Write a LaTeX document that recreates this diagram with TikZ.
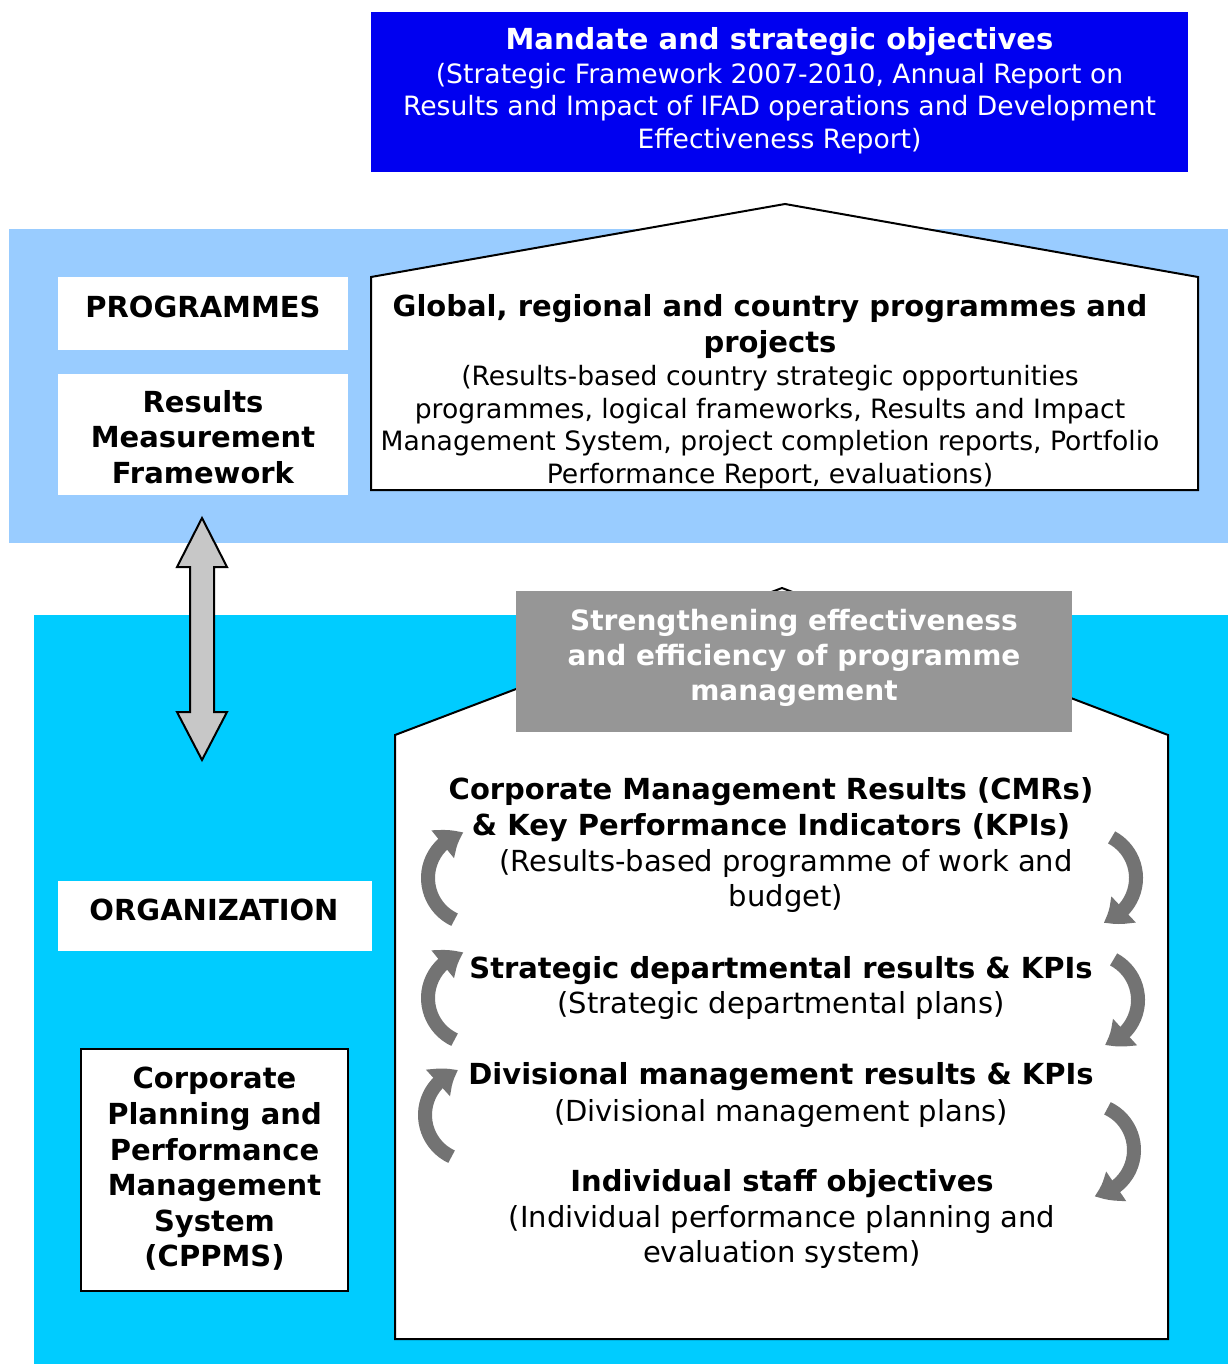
\documentclass[tikz,border=0pt]{standalone}
\usepackage{fontspec}
\setmainfont{DejaVu Sans}
\usetikzlibrary{arrows.meta,bending}

\definecolor{mandateblue}{RGB}{0,0,240}
\definecolor{progband}{RGB}{153,204,255}
\definecolor{orgband}{RGB}{0,204,255}
\definecolor{strengthgrey}{RGB}{150,150,150}

\begin{document}
\begin{tikzpicture}
	[x=0.5pt,y=-0.5pt,line join=miter,
	%Styles
	white box/.style={fill=white},
	box text/.style={inner sep=0pt,align=center,font=\fontsize{14.5}{17.8}\selectfont\bfseries},
	house/.style={fill=white,draw=black,line width=1pt},
	head text/.style={font=\fontsize{14.5}{18}\selectfont\bfseries,align=center,inner sep=0pt},
	plain text/.style={font=\fontsize{14.5}{17.5}\selectfont,align=center,inner sep=0pt},
	small text/.style={font=\fontsize{13.3}{16.3}\selectfont,align=center,inner sep=0pt},
	turn arrow/.style={line width=7pt,draw=black!55,-{Triangle[width=17pt,length=12pt,bend]}}
	]

	\useasboundingbox (0,0) rectangle (1228,1364);

	%Bands
	\fill[progband] (9,229) rectangle (1228,543);
	\fill[orgband] (34,615) rectangle (1228,1364);

	%Top box
	\node[fill=mandateblue,minimum width=408.5pt,minimum height=80pt,inner sep=0pt] (mandate) at (779.5,92) {};
	\node[head text,text=white] (mandatehead) at (779.5,42) {Mandate and strategic objectives};
	\node[small text,text=white] (mandatedesc) at (779.5,108.5)
		{(Strategic Framework 2007-2010, Annual Report on\\Results and Impact of IFAD operations and Development\\Effectiveness Report)};

	%Programmes house
	\draw[house] (371,490) -- (371,277) -- (785,204) -- (1198,277) -- (1198,490) -- cycle;
	\node[head text] (globalhead) at (770,327) {Global, regional and country programmes and\\projects};
	\node[small text] (globaldesc) at (770,427)
		{(Results-based country strategic opportunities\\programmes, logical frameworks, Results and Impact\\Management System, project completion reports, Portfolio\\Performance Report, evaluations)};

	%Left boxes
	\fill[white box] (58,277) rectangle (348,350);
	\fill[white box] (58,374) rectangle (348,495);
	\fill[white box] (58,881) rectangle (372,951);
	\draw[white box,draw=black,line width=0.8pt] (81,1049) rectangle (348,1291);
	\node[box text] (progs) at (203,307) {PROGRAMMES};
	\node[box text] (rmf) at (203,437) {Results\\Measurement\\Framework};
	\node[box text] (org) at (214,910) {ORGANIZATION};
	\node[box text] (cppms) at (214.5,1169) {Corporate\\Planning and\\Performance\\Management\\System\\(CPPMS)};

	%Double arrow
	\draw[line width=1pt,fill=black!22] (202,518) -- (227,567) -- (214,567) -- (214,712) -- (227,712)
		-- (202,760) -- (177,712) -- (190,712) -- (190,567) -- (177,567) -- cycle;

	%Organization house
	\draw[house] (395,1339) -- (395,735) -- (782,588) -- (1168,735) -- (1168,1339) -- cycle;
	\node[fill=strengthgrey,minimum width=278pt,minimum height=70.5pt,inner sep=0pt] (strength) at (794,661.5) {};
	\node[text=white,font=\fontsize{14}{17.5}\selectfont\bfseries,align=center,inner sep=0pt] (strengthtext) at (794,657.5)
		{Strengthening effectiveness\\and efficiency of programme\\management};

	\node[head text] (cmrhead) at (771,810) {Corporate Management Results (CMRs)\\\& Key Performance Indicators (KPIs)};
	\node[plain text] (cmrdesc) at (786,881) {(Results-based programme of work and\\budget)};
	\node[head text] (sdrhead) at (781,971) {Strategic departmental results \& KPIs};
	\node[plain text] (sdrdesc) at (781,1005) {(Strategic departmental plans)};
	\node[head text] (dmrhead) at (781,1077) {Divisional management results \& KPIs};
	\node[plain text] (dmrdesc) at (781,1113) {(Divisional management plans)};
	\node[head text] (isohead) at (782,1184) {Individual staff objectives};
	\node[plain text] (isodesc) at (782,1237) {(Individual performance planning and\\evaluation system)};

	%Turning arrows
	\draw[turn arrow] ([shift={(115:46)}]474,878) arc[start angle=115,end angle=257,radius=46];
	\draw[turn arrow] ([shift={(115:46)}]474,998) arc[start angle=115,end angle=257,radius=46];
	\draw[turn arrow] ([shift={(115:46)}]471,1115) arc[start angle=115,end angle=254,radius=46];

	\draw[turn arrow] ([shift={(-62:46)}]1090,878) arc[start angle=-62,end angle=73,radius=46];
	\draw[turn arrow] ([shift={(-62:46)}]1092,1000) arc[start angle=-62,end angle=74,radius=46];
	\draw[turn arrow] ([shift={(-65:46)}]1088,1150) arc[start angle=-65,end angle=82,radius=46];
\end{tikzpicture}
\end{document}
